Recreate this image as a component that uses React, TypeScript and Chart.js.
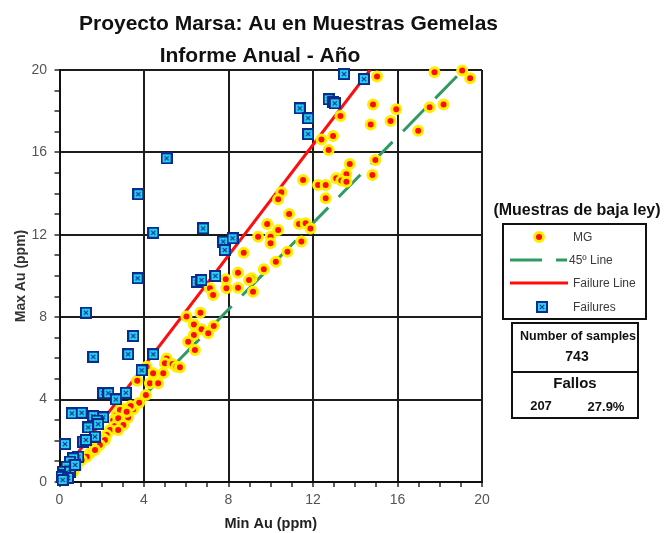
import { useEffect, useRef } from 'react';
import { Chart, registerables } from 'chart.js';

Chart.register(...registerables);

const FONT = '"Liberation Sans", Arial, Helvetica, sans-serif';

// Chart text
const titleLines = ['Proyecto Marsa: Au en Muestras Gemelas', 'Informe Anual - Año'];
const xTitle = 'Min Au (ppm)';
const yTitle = 'Max Au (ppm)';
const panelTitle = '(Muestras de baja ley)';
const legendLabels = ['MG', '45º Line', 'Failure Line', 'Failures'];
const statsLabels = ['Number of samples', 'Fallos'];
const sampleCount = '743';
const failCount = '207';
const failPercent = '27.9%';

// Axis range and labelled ticks (minor tick marks every 1 ppm)
const axisMin = 0;
const axisMax = 20;
const labelledTicks = [0, 4, 8, 12, 16, 20];

// Twin samples (MG): min vs max Au
const mgMin = [
  15.03, 17.75, 19.06, 19.44, 14.84, 15.94, 17.52, 18.18, 13.3, 14.73,
  15.67, 16.98, 12.4, 12.95, 12.74, 13.74, 14.95, 14.81, 13.58, 13.1,
  13.34, 13.58, 11.53, 12.24, 12.6, 12.6, 10.5, 10.35, 10.87, 9.83,
  11.34, 11.65, 11.88, 10.35, 9.4, 9.99, 9.99, 11.45, 10.79, 10.24,
  9.67, 9.09, 9.16, 8.72, 8.45, 8.97, 7.87, 7.9, 8.45, 7.12,
  7.27, 6.67, 6.01, 6.36, 7.3, 6.72, 6.36, 7.04, 6.09, 6.41,
  5.07, 4.99, 5.35, 5.54, 4.91, 4.43, 4.12, 5.7, 3.68, 4.28,
  4.67, 4.09, 3.77, 3.33, 3.49, 2.94, 2.7, 3.1, 2.86, 3.25,
  2.54, 2.62, 2.39, 2.23, 2.04, 1.83, 1.44, 1.6, 3.37, 2.86,
  3.18, 2.78, 3.02, 2.78, 2.15, 1.91, 1.68, 1.29, 1.05, 0.81,
  0.65, 0.42, 0.1,
];
const mgMax = [
  19.68, 19.89, 19.97, 19.6, 18.33, 18.09, 18.19, 18.33, 17.77, 17.36,
  17.52, 17.05, 16.63, 16.8, 16.12, 15.44, 15.63, 14.9, 14.94, 14.74,
  14.63, 14.58, 14.66, 14.42, 14.42, 13.77, 14.06, 13.72, 13.01, 12.52,
  12.52, 12.56, 12.31, 12.23, 11.91, 11.91, 11.59, 11.67, 11.18, 10.69,
  10.33, 9.89, 9.24, 11.13, 10.16, 9.8, 9.84, 9.4, 9.43, 9.4,
  9.08, 8.22, 8.03, 7.65, 7.57, 7.41, 7.14, 7.22, 6.81, 6.41,
  6.0, 5.76, 5.73, 5.6, 5.28, 5.28, 5.6, 5.57, 4.92, 4.79,
  4.79, 4.22, 3.85, 3.58, 3.53, 3.58, 3.25, 3.25, 3.0, 3.13,
  2.98, 2.72, 2.52, 2.28, 2.12, 1.8, 1.39, 1.68, 3.69, 3.5,
  3.41, 3.09, 2.77, 2.52, 2.04, 1.8, 1.55, 1.23, 1.07, 0.74,
  0.5, 0.26, 0.1,
];

// Failed pairs: min vs max Au
const failMin = [
  13.47, 14.41, 12.74, 12.95, 13.03, 11.37, 11.77, 11.77, 5.07, 3.73,
  4.44, 6.8, 7.75, 7.82, 8.19, 3.7, 6.49, 6.72, 7.38, 1.25,
  3.49, 1.6, 3.25, 4.44, 3.89, 2.07, 2.31, 2.67, 3.14, 0.58,
  1.05, 1.6, 2.07, 1.76, 1.36, 1.83, 1.68, 1.13, 1.25, 0.26,
  0.89, 0.65, 0.5, 0.34, 0.18, 0.26, 0.5, 0.1, 0.74, 0.4, 0.15,
];
const failMax = [
  19.8, 19.56, 18.58, 18.46, 18.38, 18.14, 17.66, 16.89, 15.71, 13.97,
  12.1, 12.31, 11.67, 11.26, 11.83, 9.89, 9.72, 9.8, 10.0, 8.22,
  7.09, 6.08, 6.2, 6.2, 5.42, 4.31, 4.31, 4.01, 4.33, 3.33,
  3.36, 3.2, 3.14, 2.98, 2.65, 2.81, 2.2, 1.96, 2.04, 1.84,
  1.23, 1.15, 0.99, 0.74, 0.5, 0.34, 0.5, 0.25, 0.83, 0.2, 0.1,
];

// Reference lines (end points)
const line45Min = [0, 19.1];
const line45Max = [0, 20];
const failLineMin = [0, 14.7];
const failLineMax = [0.25, 20];

const RED = '#ff0d0d';
const YELLOW = '#ffee00';
const GREEN = '#2f9a62';
const NAVY = '#0b2c8c';
const CYAN = '#26d4f6';
const INK = '#111111';

const pairs = (xs: number[], ys: number[]) => xs.map((x, i) => ({ x, y: ys[i] }));

function makeFailureMarker(): HTMLCanvasElement {
  const c = document.createElement('canvas');
  c.width = 12;
  c.height = 12;
  const g = c.getContext('2d')!;
  g.fillStyle = NAVY;
  g.fillRect(0, 0, 12, 12);
  g.fillStyle = CYAN;
  g.fillRect(2, 2, 8, 8);
  g.strokeStyle = NAVY;
  g.lineWidth = 1.1;
  g.beginPath();
  g.moveTo(3.8, 3.8);
  g.lineTo(8.2, 8.2);
  g.moveTo(8.2, 3.8);
  g.lineTo(3.8, 8.2);
  g.stroke();
  return c;
}

function drawMgMarker(ctx: CanvasRenderingContext2D, x: number, y: number) {
  ctx.beginPath();
  ctx.arc(x, y, 4.5, 0, Math.PI * 2);
  ctx.fillStyle = RED;
  ctx.fill();
  ctx.lineWidth = 3;
  ctx.strokeStyle = YELLOW;
  ctx.stroke();
}

export default function App() {
  const ref = useRef<HTMLCanvasElement | null>(null);

  useEffect(() => {
    if (!ref.current) return;
    const failMarker = makeFailureMarker();

    // Title, legend panel and sample statistics drawn around the plot
    const panelPlugin = {
      id: 'panelPlugin',
      afterDraw(chart: any) {
        const ctx: CanvasRenderingContext2D = chart.ctx;
        const area = chart.chartArea;
        ctx.save();

        // Two-line title
        ctx.fillStyle = INK;
        ctx.font = `bold 21px ${FONT}`;
        ctx.textAlign = 'center';
        ctx.textBaseline = 'alphabetic';
        ctx.fillText(titleLines[0], 288.5, 30);
        ctx.fillText(titleLines[1], 260, 62);

        const px = area.right;
        // Panel heading
        ctx.font = `bold 16px ${FONT}`;
        ctx.fillStyle = INK;
        ctx.fillText(panelTitle, px + 95, 215);

        // Legend box
        ctx.lineWidth = 2;
        ctx.strokeStyle = INK;
        ctx.strokeRect(px + 21, 224, 143, 95);

        ctx.font = `12px ${FONT}`;
        ctx.textAlign = 'left';
        ctx.textBaseline = 'middle';

        drawMgMarker(ctx, px + 57, 237);
        ctx.fillStyle = '#3a3a3a';
        ctx.fillText(legendLabels[0], px + 91, 238);

        ctx.save();
        ctx.strokeStyle = GREEN;
        ctx.lineWidth = 3;
        ctx.beginPath();
        ctx.moveTo(px + 28, 260);
        ctx.lineTo(px + 60, 260);
        ctx.moveTo(px + 74, 260);
        ctx.lineTo(px + 85, 260);
        ctx.stroke();
        ctx.restore();
        ctx.fillText(legendLabels[1], px + 87, 261);

        ctx.save();
        ctx.strokeStyle = RED;
        ctx.lineWidth = 3;
        ctx.beginPath();
        ctx.moveTo(px + 28, 283);
        ctx.lineTo(px + 86, 283);
        ctx.stroke();
        ctx.restore();
        ctx.fillText(legendLabels[2], px + 91, 284);

        ctx.drawImage(failMarker, px + 60 - 6, 307 - 6);
        ctx.fillText(legendLabels[3], px + 91, 308);

        // Statistics box
        ctx.lineWidth = 2;
        ctx.strokeStyle = INK;
        ctx.strokeRect(px + 30, 323, 126, 95);
        ctx.beginPath();
        ctx.moveTo(px + 30, 372);
        ctx.lineTo(px + 156, 372);
        ctx.stroke();

        ctx.fillStyle = INK;
        ctx.textAlign = 'center';
        ctx.font = `bold 12.5px ${FONT}`;
        ctx.fillText(statsLabels[0], px + 96, 337);
        ctx.font = `bold 14px ${FONT}`;
        ctx.fillText(sampleCount, px + 95, 357);
        ctx.font = `bold 15px ${FONT}`;
        ctx.fillText(statsLabels[1], px + 93, 384);
        ctx.font = `bold 13px ${FONT}`;
        ctx.fillText(failCount, px + 59, 406);
        ctx.fillText(failPercent, px + 124, 407);

        ctx.restore();
      },
    };

    const isLabelled = (v: number) => labelledTicks.includes(v);
    const gridColor = (c: any) => (c.tick && isLabelled(c.tick.value) ? '#1c1c1c' : 'rgba(0,0,0,0)');

    const tickFont = { family: FONT, size: 14 };
    const commonGrid = {
      color: gridColor,
      lineWidth: 2,
      tickColor: '#2a2a2a',
      tickWidth: 1.5,
      tickLength: 5,
    };

    const chart = new Chart(ref.current, {
      type: 'scatter',
      data: {
        datasets: [
          {
            label: legendLabels[3],
            data: pairs(failMin, failMax),
            pointStyle: failMarker,
            pointRadius: 6,
            order: 0,
            clip: false,
          } as any,
          {
            label: legendLabels[0],
            data: pairs(mgMin, mgMax),
            pointRadius: 4.5,
            pointBorderWidth: 3,
            backgroundColor: RED,
            borderColor: YELLOW,
            order: 1,
            clip: false,
          },
          {
            label: legendLabels[2],
            type: 'line',
            data: pairs(failLineMin, failLineMax),
            borderColor: RED,
            borderWidth: 3,
            pointRadius: 0,
            showLine: true,
            order: 2,
          } as any,
          {
            label: legendLabels[1],
            type: 'line',
            data: pairs(line45Min, line45Max),
            borderColor: GREEN,
            borderWidth: 3,
            borderDash: [31, 15],
            borderDashOffset: 15,
            pointRadius: 0,
            showLine: true,
            order: 3,
          } as any,
        ],
      },
      options: {
        animation: false,
        responsive: true,
        maintainAspectRatio: false,
        layout: { padding: { left: 0, top: 70, right: 188, bottom: 0 } },
        plugins: {
          legend: { display: false },
          tooltip: { enabled: false },
          title: { display: false },
        },
        scales: {
          x: {
            type: 'linear',
            min: axisMin,
            max: axisMax,
            afterFit: (s: any) => {
              s.height = 51;
            },
            ticks: {
              stepSize: 1,
              autoSkip: false,
              maxRotation: 0,
              padding: 5,
              color: '#555555',
              font: tickFont,
              callback: (v: any) => (isLabelled(Number(v)) ? String(v) : ''),
            },
            grid: commonGrid,
            border: { color: INK, width: 2 },
            title: {
              display: true,
              text: xTitle,
              color: '#222222',
              font: { family: FONT, size: 14.5, weight: 'bold' },
              padding: { top: 0, bottom: 0.5 },
            },
          },
          y: {
            type: 'linear',
            min: axisMin,
            max: axisMax,
            afterFit: (s: any) => {
              s.width = 59.5;
            },
            ticks: {
              stepSize: 1,
              autoSkip: false,
              padding: 7.5,
              color: '#555555',
              font: tickFont,
              callback: (v: any) => (isLabelled(Number(v)) ? String(v) : ''),
            },
            grid: commonGrid,
            border: { color: INK, width: 2 },
            title: {
              display: true,
              text: yTitle,
              color: '#333333',
              font: { family: FONT, size: 14, weight: 'bold' },
              padding: { top: 12.6, bottom: 0 },
            },
          },
        },
      } as any,
      plugins: [panelPlugin],
    });

    return () => chart.destroy();
  }, []);

  return (
    <div style={{ position: 'fixed', left: 0, top: 0, width: 670, height: 533, background: '#ffffff' }}>
      <canvas ref={ref} />
    </div>
  );
}
